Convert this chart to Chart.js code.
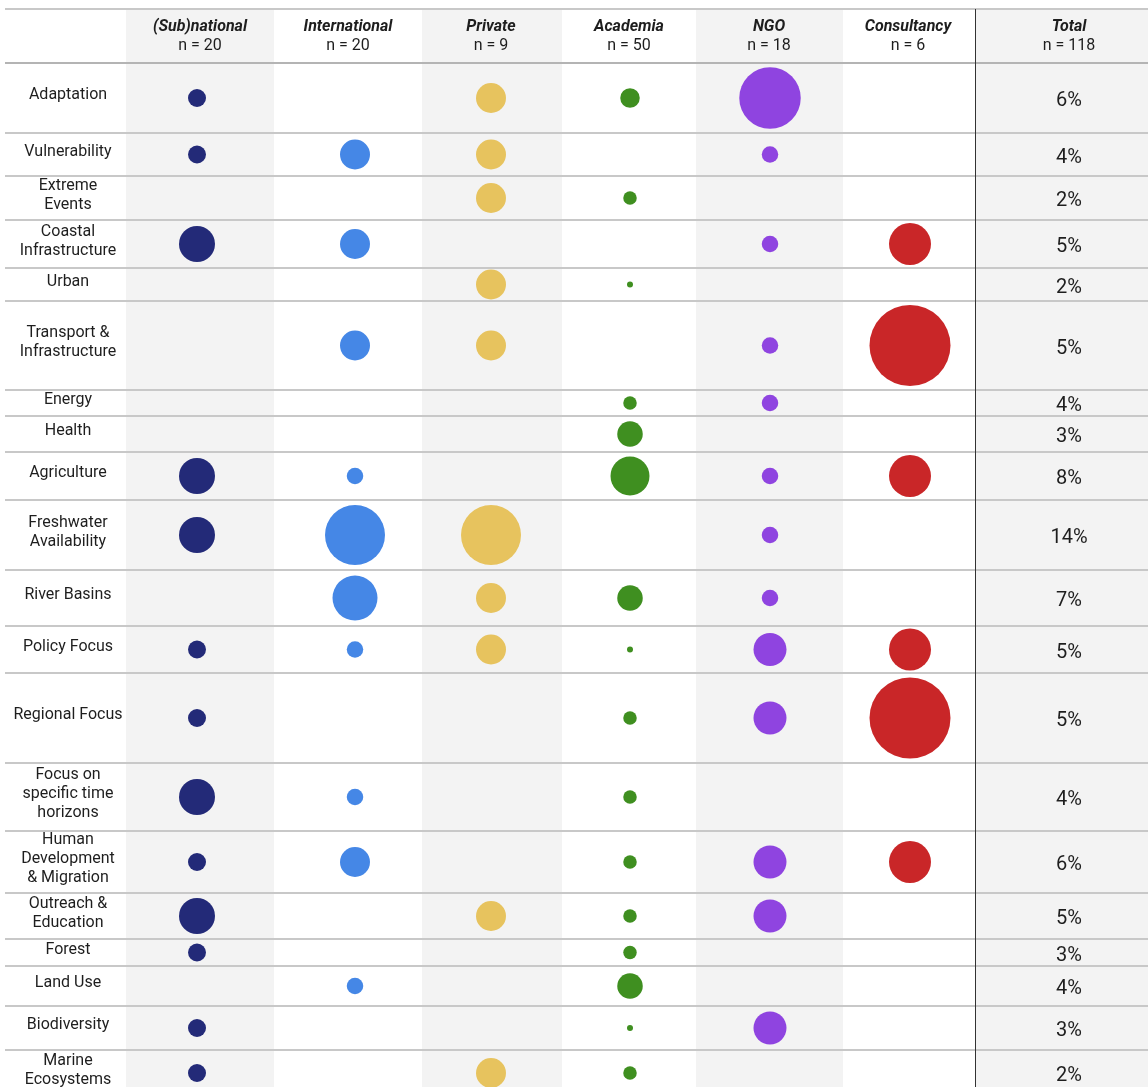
<!DOCTYPE html>
<html>
<head>
<meta charset="utf-8">
<script src="https://cdn.jsdelivr.net/npm/chart.js@4.4.1/dist/chart.umd.min.js"></script>
<style>
  html, body { margin: 0; padding: 0; background: #fff; }
  #wrap { position: relative; width: 1148px; height: 1087px; }
</style>
</head>
<body>
<div id="wrap"><canvas id="bubbleTable"></canvas></div>
<script>
// ---- data ----
var categories = [
  ['Adaptation'], ['Vulnerability'], ['Extreme', 'Events'], ['Coastal', 'Infrastructure'],
  ['Urban'], ['Transport &', 'Infrastructure'], ['Energy'], ['Health'], ['Agriculture'],
  ['Freshwater', 'Availability'], ['River Basins'], ['Policy Focus'], ['Regional Focus'],
  ['Focus on', 'specific time', 'horizons'], ['Human', 'Development', '& Migration'],
  ['Outreach &', 'Education'], ['Forest'], ['Land Use'], ['Biodiversity'], ['Marine', 'Ecosystems']
];
var groups = ['(Sub)national', 'International', 'Private', 'Academia', 'NGO', 'Consultancy'];
var groupN = [20, 20, 9, 50, 18, 6];
var totalN = 118;

// estimated share within each group (%), 0 = not mentioned
var subnational   = [6, 6, 0, 12, 0, 0, 0, 0, 12, 12, 0, 6, 6, 12, 6, 12, 6, 0, 6, 6];
var international = [0, 10, 0, 10, 0, 10, 0, 0, 5.5, 20, 15, 5.5, 0, 5.5, 10, 0, 0, 5.5, 0, 0];
var privateSector = [10, 10, 10, 0, 10, 10, 0, 0, 0, 20, 10, 10, 0, 0, 0, 10, 0, 0, 0, 10];
var academia      = [6.5, 0, 4.5, 0, 2, 0, 4.5, 8.5, 13, 0, 8.5, 2, 4.5, 4.5, 4.5, 4.5, 4.5, 8.5, 2, 4.5];
var ngo           = [20.5, 5.5, 0, 5.5, 0, 5.5, 5.5, 0, 5.5, 5.5, 5.5, 11, 11, 0, 11, 11, 0, 0, 11, 0];
var consultancy   = [0, 0, 0, 14, 0, 27, 0, 0, 14, 0, 0, 14, 27, 0, 14, 0, 0, 0, 0, 0];
var totals        = [6, 4, 2, 5, 2, 5, 4, 3, 8, 14, 7, 5, 5, 4, 6, 5, 3, 4, 3, 2];

// ---- layout / style ----
var groupColors = ['#232a78', '#4587e6', '#e7c35e', '#3f8f20', '#8f44e0', '#c92628'];
var headerTop = 9;
var headerBottom = 63;
var rowHeights = [70, 43, 44, 48, 33, 89, 26, 36, 48, 70, 56, 47, 90, 68, 62, 46, 27, 40, 44, 46];
var colEdges = [126, 274, 422, 562, 696, 843, 975];
var bubbleX = [197, 355, 491, 630, 770, 910];
var headerX = [200, 348, 491, 629, 769, 908];
var totalX = 1069;
var labelX = 68;
var radiusPerUnit = 1.5;

var rowTops = [];
var rowCenters = [];
var acc = headerBottom;
rowHeights.forEach(function(h) {
  rowTops.push(acc);
  rowCenters.push(acc + h / 2);
  acc += h;
});

var groupSeries = [subnational, international, privateSector, academia, ngo, consultancy];

var datasets = groups.map(function(name, g) {
  var points = [];
  groupSeries[g].forEach(function(v, i) {
    if (v > 0) {
      points.push({ x: bubbleX[g], y: rowCenters[i], r: v * radiusPerUnit });
    }
  });
  return {
    label: name,
    data: points,
    backgroundColor: groupColors[g],
    borderWidth: 0,
    hoverRadius: 0,
    clip: false
  };
});

// draws the table around the bubbles: shading, rules, header, labels, totals
var tablePlugin = {
  id: 'tableGrid',
  beforeDatasetsDraw: function(chart) {
    var ctx = chart.ctx;
    var xs = chart.scales.x;
    var ys = chart.scales.y;
    var W = chart.width;
    var bottom = chart.height;
    var top = ys.getPixelForValue(headerTop);

    ctx.save();

    // shaded columns
    ctx.fillStyle = '#f3f3f3';
    [0, 2, 4].forEach(function(c) {
      var x0 = xs.getPixelForValue(colEdges[c]);
      var x1 = xs.getPixelForValue(colEdges[c + 1]);
      ctx.fillRect(x0, top, x1 - x0, bottom - top);
    });
    var tx = xs.getPixelForValue(colEdges[6]);
    ctx.fillRect(tx, top, W - tx, bottom - top);

    // horizontal rules
    var lines = [headerTop, headerBottom].concat(rowTops.slice(1), [acc]);
    lines.forEach(function(v, i) {
      var y = Math.round(ys.getPixelForValue(v));
      ctx.fillStyle = i === 1 ? '#b4b4b4' : '#c8c8c8';
      ctx.fillRect(5, y - 1, W - 5, 2);
    });

    // vertical rule before Total
    ctx.fillStyle = '#333';
    ctx.fillRect(Math.round(tx), top, 1, bottom - top);

    // header
    ctx.textAlign = 'center';
    ctx.textBaseline = 'middle';
    ctx.fillStyle = '#1e1e1e';
    var hx = headerX.concat([totalX]);
    var hn = groups.concat(['Total']);
    var nn = groupN.concat([totalN]);
    hn.forEach(function(name, i) {
      var x = xs.getPixelForValue(hx[i]);
      ctx.font = 'italic bold 16px Roboto';
      ctx.fillText(name, x, ys.getPixelForValue(27));
      ctx.font = '16px Roboto';
      ctx.fillText('n = ' + nn[i], x, ys.getPixelForValue(46));
    });

    // row labels
    ctx.font = '16px Roboto';
    categories.forEach(function(lbl, i) {
      var lh = 19;
      var cy = ys.getPixelForValue(rowCenters[i]) - 3;
      var y0 = cy - (lbl.length - 1) * lh / 2;
      lbl.forEach(function(line, k) {
        ctx.fillText(line, xs.getPixelForValue(labelX), y0 + k * lh);
      });
    });

    // totals
    ctx.font = '20px Roboto';
    totals.forEach(function(t, i) {
      ctx.fillText(t + '%', xs.getPixelForValue(totalX), ys.getPixelForValue(rowCenters[i]) + 3);
    });

    ctx.restore();
  }
};

var ctx = document.getElementById('bubbleTable').getContext('2d');
var bubbleTable = new Chart(ctx, {
  type: 'bubble',
  data: { datasets: datasets },
  options: {
    responsive: true,
    maintainAspectRatio: false,
    animation: false,
    events: [],
    layout: { padding: 0, autoPadding: false },
    plugins: {
      legend: { display: false },
      tooltip: { enabled: false }
    },
    scales: {
      x: { type: 'linear', min: 0, max: 1148, display: false },
      y: { type: 'linear', min: 0, max: 1087, reverse: true, display: false }
    }
  },
  plugins: [tablePlugin]
});
</script>
</body>
</html>
